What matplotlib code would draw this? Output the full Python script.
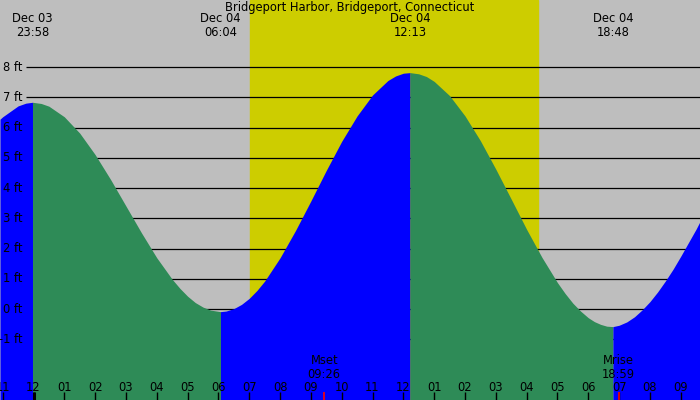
import matplotlib
matplotlib.use('Agg')
import matplotlib.pyplot as plt
import numpy as np

# hours from Dec 04 00:00, tide height in ft
tide_t = [-1.087, -1.0, -0.5, -0.25, -0.033, 0.25, 0.5, 1.0, 1.5, 2.0, 2.5, 3.0, 3.5,
          4.0, 4.5, 4.75, 5.0, 5.25, 5.5, 5.75, 6.067, 6.25, 6.5, 6.75, 7.0, 7.25, 7.5,
          8.0, 8.5, 9.0, 9.5, 10.0, 10.5, 11.0, 11.5, 11.75, 12.0, 12.217, 12.5, 12.75,
          13.0, 13.5, 14.0, 14.5, 15.0, 15.5, 16.0, 16.5, 17.0, 17.25, 17.5, 17.75,
          18.0, 18.2, 18.4, 18.6, 18.8, 19.0, 19.25, 19.5, 19.75, 20.0, 20.25, 20.5,
          20.75, 21.0, 21.25, 21.5, 21.626]
tide_h = [6.28, 6.36, 6.72, 6.81, 6.84, 6.80, 6.71, 6.36, 5.82, 5.11, 4.29, 3.41, 2.53,
          1.70, 0.99, 0.69, 0.43, 0.22, 0.07, -0.03, -0.08, -0.06, 0.02, 0.16, 0.36, 0.62, 0.93,
          1.70, 2.60, 3.58, 4.59, 5.55, 6.39, 7.08, 7.56, 7.71, 7.80, 7.82, 7.78, 7.69,
          7.53, 7.06, 6.39, 5.57, 4.63, 3.64, 2.64, 1.71, 0.88, 0.52, 0.20, -0.06,
          -0.28, -0.41, -0.50, -0.56, -0.575, -0.53, -0.42, -0.25, -0.02, 0.25, 0.57, 0.93,
          1.32, 1.75, 2.20, 2.65, 2.90]

# high / low tides
ext_t = [-0.033, 6.067, 12.217, 18.8]
ext_labels = ["Dec 03\n23:58", "Dec 04\n06:04", "Dec 04\n12:13", "Dec 04\n18:48"]

sunrise, sunset = 7.02, 16.37
moon_t = [9.433, 18.983]
moon_labels = ["Mset\n09:26", "Mrise\n18:59"]

levels = [-1, 0, 1, 2, 3, 4, 5, 6, 7, 8]
hours = list(range(-1, 22))
hour_labels = ["%02d" % (12 if h % 12 == 0 else h % 12) for h in hours]

title = "Bridgeport Harbor, Bridgeport, Connecticut"

grey = '#bebebe'
yellow = '#cdcd00'
blue = '#0000ff'
green = '#2e8b57'
fs = 8.3

xmin, xmax = -1.087, 21.626
ymin, ymax = -3.0, 10.22

fig = plt.figure(figsize=(7, 4), dpi=100)
ax = fig.add_axes([0, 0, 1, 1])
ax.set_xlim(xmin, xmax)
ax.set_ylim(ymin, ymax)
ax.set_facecolor(grey)
ax.set_axisbelow(False)
for s in ax.spines.values():
    s.set_visible(False)

# daylight
ax.axvspan(sunrise, sunset, color=yellow, zorder=0)

# level lines
ax.hlines(levels, -0.243, xmax, color='black', lw=0.9, zorder=1)
for lv in levels:
    ax.text(-0.37, lv, "%d ft" % lv, ha='right', va='center', fontsize=fs, zorder=5)

# tide fill: blue rising, green falling
t = np.array(tide_t)
h = np.array(tide_h)
bounds = [xmin] + ext_t + [xmax]
for i in range(len(bounds) - 1):
    m = (t >= bounds[i]) & (t <= bounds[i + 1])
    ax.fill_between(t[m], ymin, h[m], color=blue if i % 2 == 0 else green,
                    lw=0, zorder=2)

# labels at top
ax.text(0.5, 1 - 7 / 400, title, transform=ax.transAxes, ha='center', va='center',
        fontsize=fs, zorder=5)
for x, lab in zip(ext_t, ext_labels):
    ax.text(x, 1 - 25.5 / 400, lab, transform=ax.get_xaxis_transform(), ha='center',
            va='center', fontsize=fs, linespacing=1.1, zorder=5)

# hour ticks
ax.set_xticks(hours)
ax.set_xticklabels(hour_labels)
ax.tick_params(axis='x', direction='in', length=5.8, width=1, pad=-13.7, labelsize=fs,
               colors='black')
ax.set_yticks([])
ax.vlines([0], ymin, ymin + 8 / 30.25, color='black', lw=2.2, zorder=4)

# moon
ax.vlines(moon_t, ymin, ymin + 8 / 30.25, color='red', lw=1.2, zorder=4)
for x, lab in zip(moon_t, moon_labels):
    ax.text(x, 32.5 / 400, lab, transform=ax.get_xaxis_transform(), ha='center',
            va='center', fontsize=fs, linespacing=1.0, zorder=5)

fig.savefig('out.png', dpi=100, facecolor=grey)
